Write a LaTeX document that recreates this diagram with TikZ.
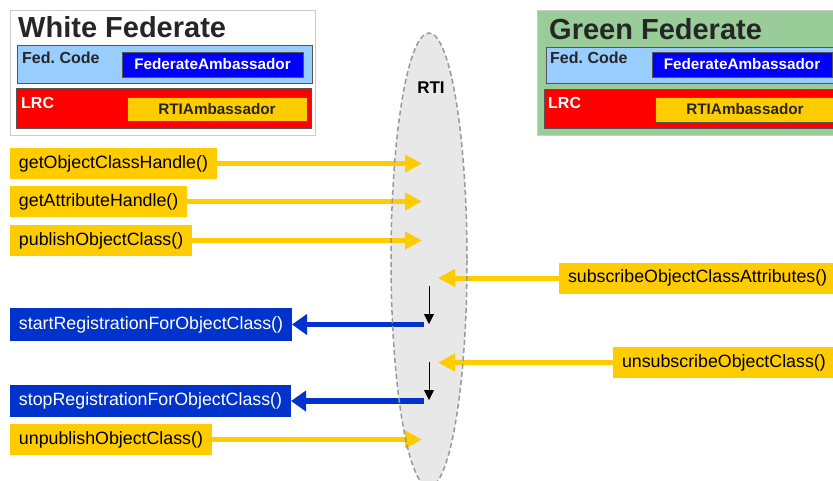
\documentclass[tikz,border=0pt]{standalone}
\usepackage{fontspec}
\setmainfont{Liberation Sans}
\usetikzlibrary{arrows.meta,shapes.geometric}
\frenchspacing
\definecolor{hyellow}{HTML}{FFCC00}
\definecolor{hblue}{HTML}{0033CC}
\definecolor{fablue}{HTML}{0000FF}
\definecolor{codeblue}{HTML}{99CCFF}
\definecolor{lrcred}{HTML}{FF0000}
\definecolor{fedgreen}{HTML}{99CC99}
\definecolor{rtigray}{HTML}{E8E8E8}
\definecolor{rtiedge}{HTML}{999999}
\definecolor{edgegray}{HTML}{555555}
\tikzset{
  panel/.style={anchor=north west, inner sep=0pt, outer sep=0pt},
  methodbox/.style={anchor=west, inner xsep=9pt, inner ysep=0pt, outer sep=0pt,
    minimum height=31pt, align=left, font=\fontsize{17.8}{20}\selectfont},
  callin/.style={methodbox, fill=hyellow, text=black},
  callback/.style={methodbox, fill=hblue, text=white},
  yarrow/.style={draw=hyellow, line width=5pt, -{Triangle[length=17pt,width=17pt]}},
  barrow/.style={draw=hblue, line width=5.5pt, -{Triangle[length=15pt,width=20pt]}},
  karrow/.style={draw=black, line width=1pt, -{Triangle[length=10pt,width=10pt]}},
  title/.style={anchor=base west, inner sep=0pt, font=\fontsize{29}{32}\selectfont\bfseries, text=black!85},
  tag/.style={anchor=base west, inner sep=0pt, font=\fontsize{16}{18}\selectfont\bfseries},
  ambfont/.style={font=\fontsize{15.3}{17}\selectfont\bfseries}
}
\begin{document}
\begin{tikzpicture}[x=1pt,y=-1pt]
\useasboundingbox (0,0) rectangle (833,480);
\clip (0,0) rectangle (833,480);

% RTI bus: filled body first, dashed outline drawn over the connectors
\node[ellipse, fill=rtigray, minimum width=76pt, minimum height=454pt, inner sep=0pt] (rti) at (429,260) {};
\node[inner sep=0pt, font=\fontsize{17}{20}\selectfont\bfseries] (rtilbl) at (431,88) {RTI};

% White federate
\node[panel, fill=white, draw=black!20, line width=1pt, minimum width=305pt, minimum height=125pt] (wf) at (10,10) {};
\node[title] (wft) at (18,37) {White Federate};
\node[panel, fill=codeblue, draw=edgegray, line width=0.8pt, minimum width=295pt, minimum height=38pt] (wcode) at (17,45) {};
\node[tag, text=black!85] (wcodet) at (22,63) {Fed. Code};
\node[panel, fill=fablue, draw=edgegray, line width=0.8pt, minimum width=181pt, minimum height=25pt, ambfont, text=white] (wfa) at (122,52) {FederateAmbassador};
\node[panel, fill=lrcred, draw=edgegray, line width=0.8pt, minimum width=295pt, minimum height=40pt] (wlrc) at (16,88) {};
\node[tag, text=white] (wlrct) at (21,108) {LRC};
\node[panel, fill=hyellow, draw=edgegray, line width=0.8pt, minimum width=180pt, minimum height=24pt, ambfont, text=black!85] (wrtia) at (127,97) {RTIAmbassador};

% Green federate
\node[panel, fill=fedgreen, draw=black!20, line width=1pt, minimum width=313pt, minimum height=125pt] (gf) at (537,10) {};
\node[title] (gft) at (549,39) {Green Federate};
\node[panel, fill=codeblue, draw=edgegray, line width=0.8pt, minimum width=300pt, minimum height=36pt] (gcode) at (546,47) {};
\node[tag, text=black!85] (gcodet) at (550,63) {Fed. Code};
\node[panel, fill=fablue, draw=edgegray, line width=0.8pt, minimum width=180pt, minimum height=25pt, ambfont, text=white] (gfa) at (652,52) {FederateAmbassador};
\node[panel, fill=lrcred, draw=edgegray, line width=0.8pt, minimum width=300pt, minimum height=39pt] (glrc) at (544,89) {};
\node[tag, text=white] (glrct) at (548,108) {LRC};
\node[panel, fill=hyellow, draw=edgegray, line width=0.8pt, minimum width=180pt, minimum height=25pt, ambfont, text=black!85] (grtia) at (655,97) {RTIAmbassador};

% White federate calls
\node[callin, text width=189pt] (m1) at (10,163.5) {getObjectClassHandle()};
\node[callin, text width=159pt] (m2) at (10,201.5) {getAttributeHandle()};
\node[callin, text width=164pt] (m3) at (10,240.5) {publishObjectClass()};
\node[callback, text width=264pt, minimum height=33pt] (c1) at (10,324.5) {startRegistrationForObjectClass()};
\node[callback, text width=263pt, minimum height=32pt] (c2) at (10,401) {stopRegistrationForObjectClass()};
\node[callin, text width=184pt] (m4) at (10,439.5) {unpublishObjectClass()};

% Green federate calls
\node[callin, text width=263pt] (g1) at (559,278) {subscribeObjectClassAttributes()};
\node[callin, text width=209pt] (g2) at (613,362.5) {unsubscribeObjectClass()};

% Points inside the RTI
\coordinate (r1) at (422,163.5);
\coordinate (r2) at (422,201.5);
\coordinate (r3) at (422,240.5);
\coordinate (r4) at (422,439.5);
\coordinate (rs1) at (424,324.5);
\coordinate (rs2) at (424,401);
\coordinate (rg1) at (438,278);
\coordinate (rg2) at (438,362.5);
\coordinate (k1a) at (429,286);
\coordinate (k1b) at (429,324);
\coordinate (k2a) at (429,362);
\coordinate (k2b) at (429,400);

\draw[yarrow] (m1.east) -- (r1);
\draw[yarrow] (m2.east) -- (r2);
\draw[yarrow] (m3.east) -- (r3);
\draw[yarrow] (m4.east) -- (r4);
\draw[yarrow] (g1.west) -- (rg1);
\draw[yarrow] (g2.west) -- (rg2);
\draw[barrow] (rs1) -- (c1.east);
\draw[barrow] (rs2) -- (c2.east);
\draw[karrow] (k1a) -- (k1b);
\draw[karrow] (k2a) -- (k2b);

% RTI outline
\draw[rtiedge, line width=1.5pt, dash pattern=on 5pt off 3pt] (rti.center) ellipse [x radius=38, y radius=227];
\end{tikzpicture}
\end{document}
